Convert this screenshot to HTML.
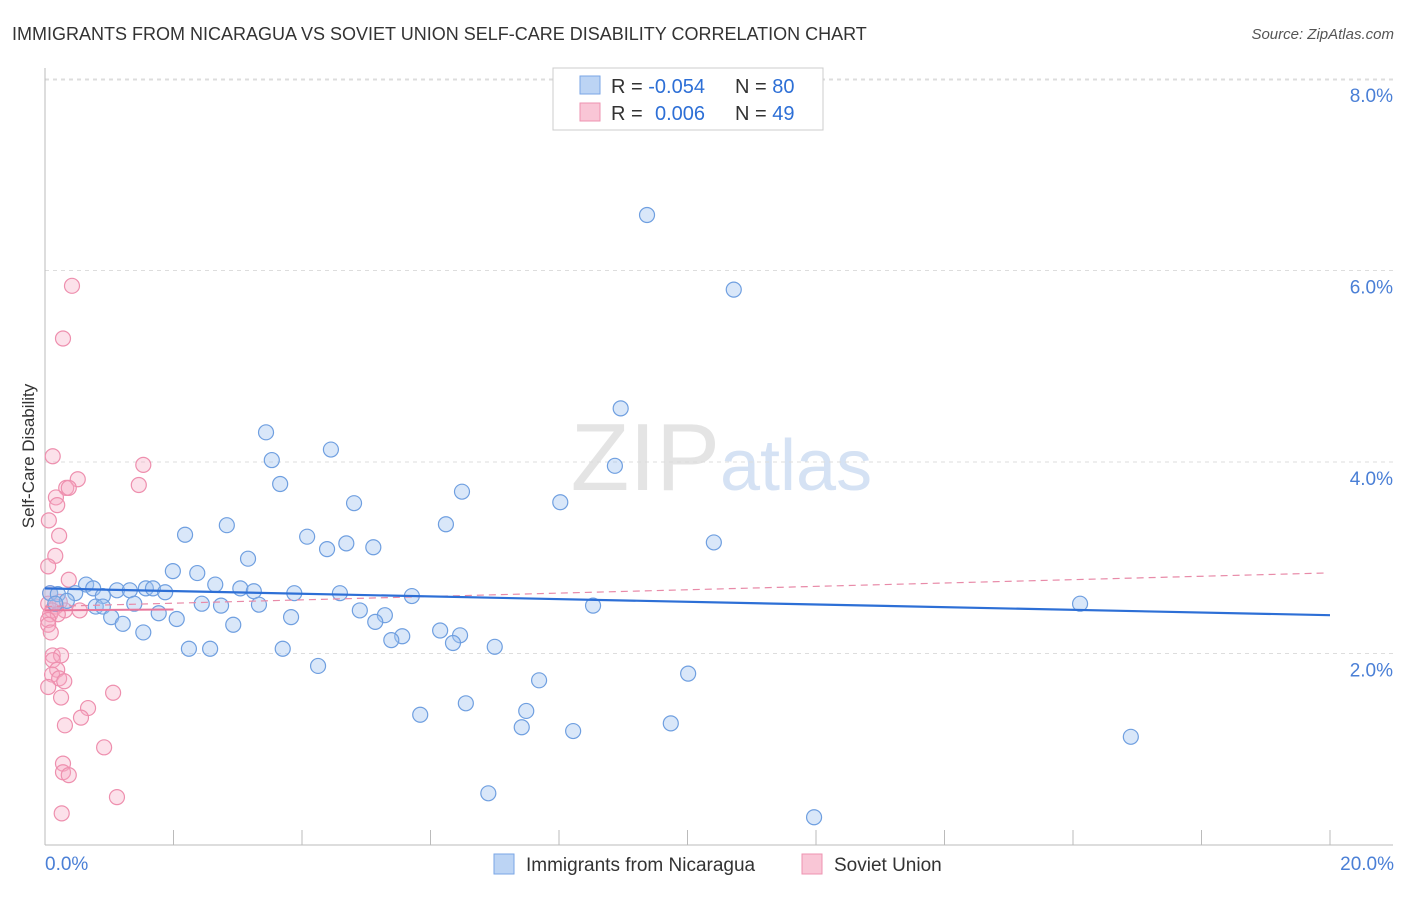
<!DOCTYPE html>
<html><head><meta charset="utf-8"><style>
body{margin:0;background:#fff;font-family:"Liberation Sans",sans-serif;}
svg text{font-family:"Liberation Sans",sans-serif;}
</style></head><body>
<svg id="chart" width="1406" height="892">
<text x="12" y="40" font-size="18" fill="#333">IMMIGRANTS FROM NICARAGUA VS SOVIET UNION SELF-CARE DISABILITY CORRELATION CHART</text>
<text x="1394" y="39" font-size="15" fill="#555" font-style="italic" text-anchor="end">Source: ZipAtlas.com</text>
<text x="720" y="490" font-size="96" fill="#e4e4e4" text-anchor="end" font-family="Liberation Serif">ZIP</text>
<text x="720" y="490" font-size="72" fill="#d5e2f4">atlas</text>
<g id="grid"></g>
<line x1="45" y1="68" x2="45" y2="845" stroke="#bbb"/>
<line x1="45" y1="845" x2="1393" y2="845" stroke="#bbb"/>
<text transform="translate(34,456) rotate(-90)" font-size="17" fill="#333" text-anchor="middle">Self-Care Disability</text>
<text x="45" y="870" font-size="19" fill="#4a7fd6">0.0%</text>
<text x="1394" y="870" font-size="19" fill="#4a7fd6" text-anchor="end">20.0%</text>
<g id="marks"></g>
<g>
<rect x="553" y="68" width="270" height="62" fill="#fff" stroke="#ccc"/>
<rect x="580" y="76" width="20" height="18" fill="#bcd4f4" stroke="#7aa6e6"/>
<rect x="580" y="103" width="20" height="18" fill="#f9c6d6" stroke="#ee93b0"/>
<text x="611" y="93" font-size="20" fill="#333">R = <tspan fill="#2d6fd6">-0.054</tspan><tspan x="735">N = </tspan><tspan fill="#2d6fd6">80</tspan></text>
<text x="611" y="120" font-size="20" fill="#333">R = <tspan x="655" fill="#2d6fd6">0.006</tspan><tspan x="735">N = </tspan><tspan fill="#2d6fd6">49</tspan></text>
</g>
<g>
<rect x="494" y="854" width="20" height="20" fill="#bcd4f4" stroke="#7aa6e6"/>
<text x="526" y="871" font-size="19" fill="#333">Immigrants from Nicaragua</text>
<rect x="802" y="854" width="20" height="20" fill="#f9c6d6" stroke="#ee93b0"/>
<text x="834" y="871" font-size="19" fill="#333">Soviet Union</text>
</g>
</svg>
<script>
const yTicks=[2,4,6,8];
const yTickLabels=["2.0%","4.0%","6.0%","8.0%"];
const xTicks=[2,4,6,8,10,12,14,16,18,20];
const blueX=[9.37,10.72,8.96,3.44,4.45,3.53,8.87,3.66,6.49,4.81,8.02,2.83,6.24,2.18,4.08,10.41,4.69,5.11,4.39,3.16,1.99,2.37,0.64,2.65,0.75,1.12,1.32,1.57,1.68,1.87,3.04,3.25,3.88,4.59,5.71,0.08,0.2,0.47,0.9,0.34,0.16,0.79,0.9,1.39,2.44,2.74,3.33,8.53,16.11,1.03,1.77,2.05,3.83,4.9,5.29,5.14,1.21,2.93,1.53,5.56,5.39,6.15,6.46,6.35,7.0,2.24,2.57,3.7,4.25,10.01,7.69,6.55,5.84,7.49,7.42,9.74,8.22,16.9,6.9,11.97];
const blueY=[6.58,5.80,4.56,4.31,4.13,4.02,3.96,3.77,3.69,3.57,3.58,3.34,3.35,3.24,3.22,3.16,3.15,3.11,3.09,2.99,2.86,2.84,2.72,2.72,2.68,2.66,2.66,2.68,2.68,2.64,2.68,2.65,2.63,2.63,2.60,2.63,2.62,2.63,2.60,2.55,2.52,2.49,2.49,2.52,2.52,2.50,2.51,2.50,2.52,2.38,2.42,2.36,2.38,2.45,2.40,2.33,2.31,2.30,2.22,2.18,2.14,2.24,2.19,2.11,2.07,2.05,2.05,2.05,1.87,1.79,1.72,1.48,1.36,1.40,1.23,1.27,1.19,1.13,0.54,0.29];
const pinkX=[0.42,0.28,0.12,1.53,0.51,1.46,0.33,0.37,0.17,0.19,0.06,0.22,0.16,0.05,0.37,0.08,0.23,0.05,0.17,0.11,0.31,0.54,0.08,0.2,0.05,0.05,0.09,0.12,0.25,0.12,0.19,0.11,0.22,0.3,0.05,1.06,0.25,0.67,0.56,0.31,0.92,0.28,0.28,0.37,1.12,0.26];
const pinkY=[5.84,5.29,4.06,3.97,3.82,3.76,3.73,3.73,3.63,3.55,3.39,3.23,3.02,2.91,2.77,2.63,2.54,2.52,2.49,2.45,2.45,2.45,2.41,2.41,2.35,2.30,2.22,1.98,1.98,1.93,1.83,1.78,1.74,1.71,1.65,1.59,1.54,1.43,1.33,1.25,1.02,0.85,0.76,0.73,0.50,0.33];
const blueTrend=[[0,2.68],[20,2.40]];
const pinkTrend=[[0,2.49],[19.9,2.84]];
const pinkSolid=[[0,2.45],[2.0,2.46]];
const NS="http://www.w3.org/2000/svg";
const sx=v=>45+v*64.25, sy=v=>845-v*95.75;
function mk(t,a,p){const e=document.createElementNS(NS,t);for(const k in a)e.setAttribute(k,a[k]);p.appendChild(e);return e;}
const gridG=document.getElementById('grid'), marksG=document.getElementById('marks');
yTicks.forEach((t,i)=>{
 const l=mk('line',{x1:45,x2:1393,y1:sy(t),y2:sy(t),stroke:'#ddd','stroke-dasharray':'4,4'},gridG);
 
 
 const tx=mk('text',{x:1393,y:sy(t)+23,'font-size':19,fill:'#4a7fd6','text-anchor':'end'},gridG);
 tx.textContent=yTickLabels[i];
 
 
});
const topGrid=mk('line',{x1:45,x2:1393,y1:80,y2:80,stroke:'#ddd','stroke-dasharray':'4,4'},gridG);


xTicks.forEach(t=>{
 const l=mk('line',{x1:sx(t),x2:sx(t),y1:830,y2:845,stroke:'#bbb'},gridG);
 
 
});
pinkX.forEach((x,i)=>{
 const c=mk('circle',{cx:sx(x),cy:sy(pinkY[i]),r:7.5,fill:'rgba(246,170,196,0.35)',stroke:'#ee8fae','stroke-width':1.2},marksG);
 
 
});
blueX.forEach((x,i)=>{
 const c=mk('circle',{cx:sx(x),cy:sy(blueY[i]),r:7.5,fill:'rgba(160,195,240,0.4)',stroke:'#6f9fe0','stroke-width':1.2},marksG);
 
 
});
const pt=mk('line',{x1:sx(pinkTrend[0][0]),y1:sy(pinkTrend[0][1]),x2:sx(pinkTrend[1][0]),y2:sy(pinkTrend[1][1]),stroke:'#e88aa8','stroke-width':1.2,'stroke-dasharray':'7,5'},marksG);


const ps=mk('line',{x1:sx(pinkSolid[0][0]),y1:sy(pinkSolid[0][1]),x2:sx(pinkSolid[1][0]),y2:sy(pinkSolid[1][1]),stroke:'#e8779c','stroke-width':2},marksG);


const bt=mk('line',{x1:sx(blueTrend[0][0]),y1:sy(blueTrend[0][1]),x2:sx(blueTrend[1][0]),y2:sy(blueTrend[1][1]),stroke:'#2d6fd6','stroke-width':2.2},marksG);


</script>
</body></html>
